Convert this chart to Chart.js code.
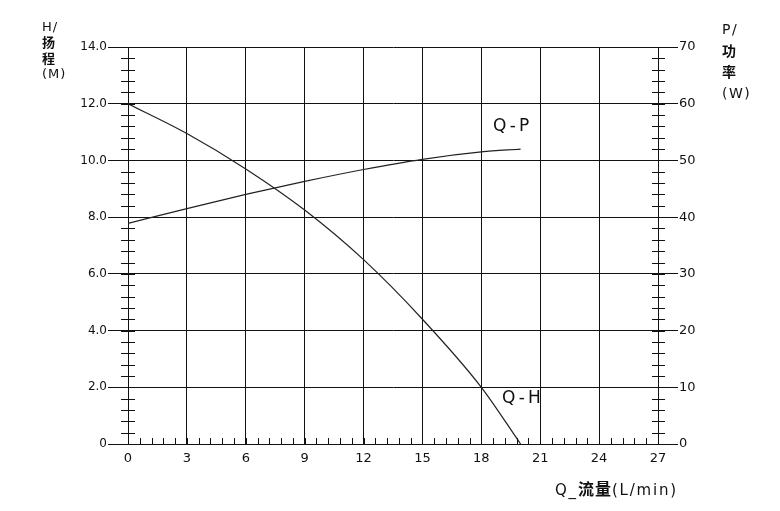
<!DOCTYPE html>
<html>
<head>
<meta charset="utf-8">
<script src="https://cdn.jsdelivr.net/npm/chart.js@4/dist/chart.umd.min.js"></script>
<style>
  html, body { margin: 0; padding: 0; background: #fff; }
  #wrap { position: relative; width: 780px; height: 511px; }
  canvas { position: absolute; left: 0; top: 0; }
  .lbl { position: absolute; font: 12px "DejaVu Sans", sans-serif; color: #111; white-space: nowrap; line-height: 1; }
  .cjk { font-family: "Noto Sans CJK SC", sans-serif; font-weight: bold; }
</style>
</head>
<body>
<div id="wrap">
  <canvas id="pump" width="780" height="511"></canvas>
  <div class="lbl" style="left:42px;top:19px;line-height:15px;font-size:13px;letter-spacing:1px">H/<br><span class="cjk" style="font-size:13px">扬</span><br><span class="cjk" style="font-size:13px">程</span><br>(M)</div>
  <div class="lbl" style="left:722px;top:19px;line-height:20.5px;font-size:14px;letter-spacing:1.5px">P/<br><span class="cjk" style="font-size:14px">功</span><br><span class="cjk" style="font-size:14px">率</span><br>(W)</div>
  <div class="lbl" style="left:493px;top:117px;font-size:17px;letter-spacing:3px">Q-P</div>
  <div class="lbl" style="left:502px;top:389px;font-size:17px;letter-spacing:3px">Q-H</div>
  <div class="lbl" style="left:555px;top:480px;font-size:15px;letter-spacing:1.8px">Q_<span class="cjk" style="font-size:16px;letter-spacing:1px">流量</span>(L/min)</div>
</div>
<script>
// data
const flow = [0, 3, 6, 9, 12, 15, 18, 20];          // Q, L/min
const head = [12.0, 10.95, 9.7, 8.25, 6.5, 4.4, 2.0, 0];   // H, m
const power = [38.9, 41.5, 44.0, 46.3, 48.4, 50.2, 51.5, 52.0]; // P, W
const flowTicks = [0, 3, 6, 9, 12, 15, 18, 21, 24, 27];
const headTicks = [0, 2, 4, 6, 8, 10, 12, 14];
const powerTicks = [0, 10, 20, 30, 40, 50, 60, 70];

const ink = '#111';

// small ticks between the main ones
const minorTicks = {
  id: 'minorTicks',
  afterDraw(chart) {
    const { ctx, scales: { x, y } } = chart;
    ctx.save();
    ctx.strokeStyle = ink; ctx.lineWidth = 1;
    ctx.beginPath();
    for (let v = 0.4; v < 14; v += 0.4) {
      const py = Math.round(y.getPixelForValue(v)) + 0.5;
      ctx.moveTo(x.left - 7, py); ctx.lineTo(x.left + 7, py);
      ctx.moveTo(x.right - 6, py); ctx.lineTo(x.right + 7, py);
    }
    for (let v = 0.6; v < 27; v += 0.6) {
      const px = Math.round(x.getPixelForValue(v)) + 0.5;
      ctx.moveTo(px, y.bottom); ctx.lineTo(px, y.bottom - 6);
    }
    ctx.stroke();
    ctx.restore();
  }
};

const font = { family: '"DejaVu Sans", sans-serif', size: 12 };

new Chart(document.getElementById('pump'), {
  type: 'line',
  data: {
    datasets: [
      { label: 'Q-H', data: flow.map((q, i) => ({ x: q, y: head[i] })), yAxisID: 'y',
        borderColor: '#222', borderWidth: 1.2, pointRadius: 0, cubicInterpolationMode: 'monotone' },
      { label: 'Q-P', data: flow.map((q, i) => ({ x: q, y: power[i] })), yAxisID: 'y1',
        borderColor: '#222', borderWidth: 1.2, pointRadius: 0, cubicInterpolationMode: 'monotone' }
    ]
  },
  options: {
    responsive: false, animation: false,
    layout: { padding: { top: 47, left: 0, right: 0, bottom: 0 } },
    plugins: { legend: { display: false }, tooltip: { enabled: false } },
    scales: {
      x: {
        type: 'linear', min: 0, max: 27,
        afterBuildTicks: s => { s.ticks = flowTicks.map(v => ({ value: v })); },
        afterFit: s => { s.height = 67; },
        grid: { color: ink, lineWidth: 1, drawTicks: false },
        border: { color: ink, width: 1 },
        ticks: { color: ink, font: { ...font, size: 13 }, padding: 7 }
      },
      y: {
        position: 'left', min: 0, max: 14,
        afterBuildTicks: s => { s.ticks = headTicks.map(v => ({ value: v })); },
        afterFit: s => { s.width = 128; },
        grid: { color: ink, lineWidth: 1, tickLength: 20 },
        border: { color: ink, width: 1 },
        ticks: { color: ink, font, padding: 1, callback: v => v === 0 ? '0' : v.toFixed(1) }
      },
      y1: {
        position: 'right', min: 0, max: 70,
        afterBuildTicks: s => { s.ticks = powerTicks.map(v => ({ value: v })); },
        afterFit: s => { s.width = 122; },
        grid: { color: ink, lineWidth: 1, tickLength: 20, drawOnChartArea: false },
        border: { color: ink, width: 1 },
        ticks: { color: ink, font: { ...font, size: 13 }, padding: 1 }
      }
    }
  },
  plugins: [minorTicks]
});
</script>
</body>
</html>
